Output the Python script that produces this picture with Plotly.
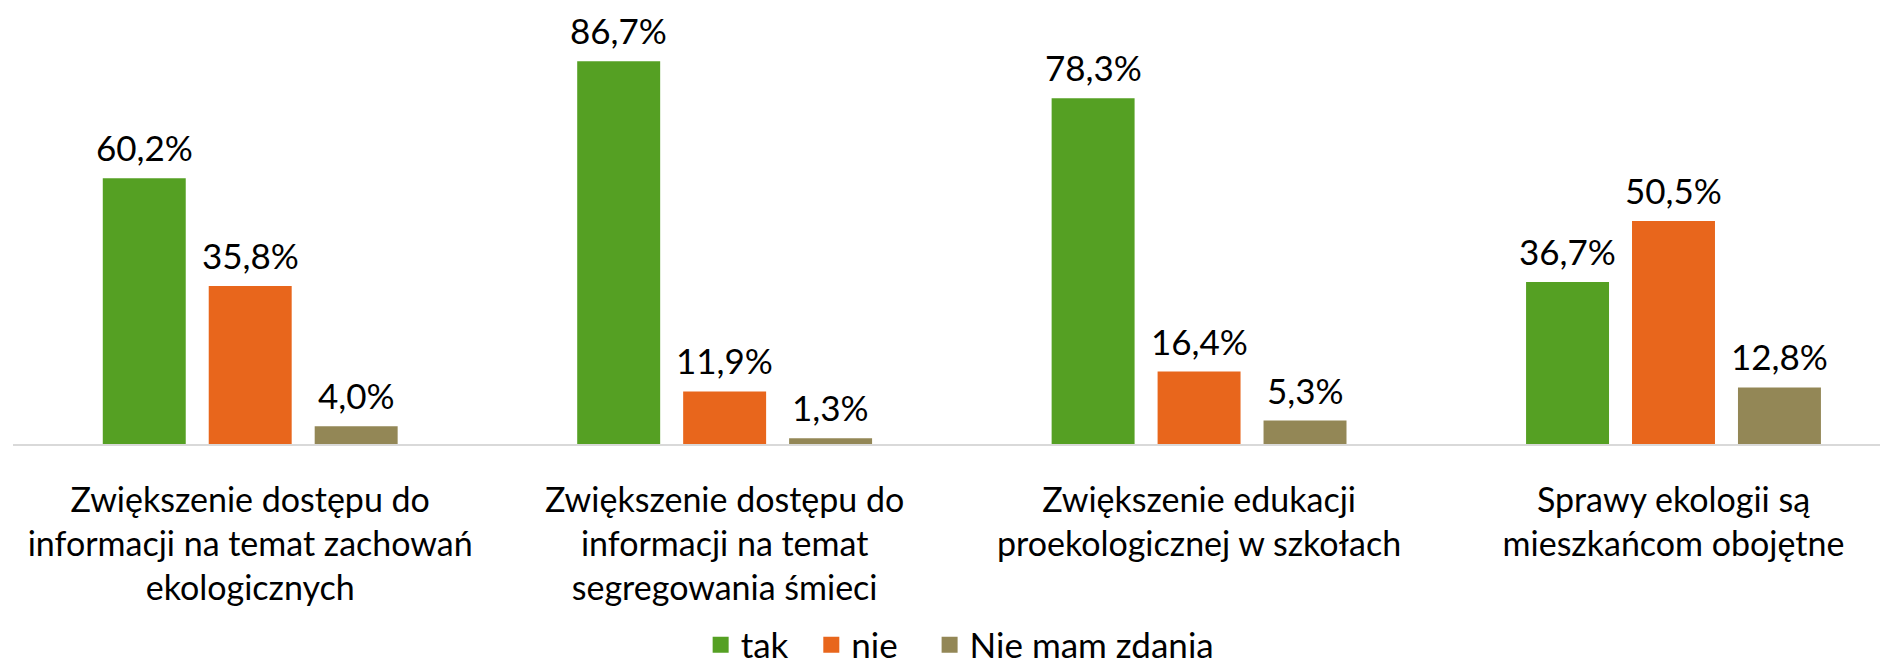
import plotly.graph_objects as go

categories = [
    "Zwiększenie dostępu do<br>informacji na temat zachowań<br>ekologicznych",
    "Zwiększenie dostępu do<br>informacji na temat<br>segregowania śmieci",
    "Zwiększenie edukacji<br>proekologicznej w szkołach",
    "Sprawy ekologii są<br>mieszkańcom obojętne",
]
tak = [60.2, 86.7, 78.3, 36.7]
nie = [35.8, 11.9, 16.4, 50.5]
brak = [4.0, 1.3, 5.3, 12.8]

series_names = ["tak", "nie", "Nie mam zdania"]
series_values = [tak, nie, brak]
colors = ["#55A023", "#E8661C", "#938756"]
# trailing no-break spaces only widen the legend entries
legend_pad = ["\u00a0\u00a0", "\u00a0\u00a0\u00a0", ""]

FONT = "Lato, Carlito, Calibri, sans-serif"
BARGAP = 0.33

fig = go.Figure()
for name, vals, col in zip(series_names, series_values, colors):
    fig.add_trace(go.Bar(
        x=categories, y=vals, name=name,
        marker=dict(color=col, line=dict(width=0)),
        showlegend=False,
    ))
# legend entries with square symbols
for name, col, pad in zip(series_names, colors, legend_pad):
    fig.add_trace(go.Scatter(
        x=[None], y=[None], mode="markers", name=name + pad,
        marker=dict(symbol="square", size=20, color=col),
        showlegend=True,
    ))

# data labels above each bar
slot = (1 - BARGAP) / len(series_values)
annotations = []
for i, vals in enumerate(series_values):
    for j, v in enumerate(vals):
        annotations.append(dict(
            x=j + (i - (len(series_values) - 1) / 2) * slot, y=v,
            xref="x", yref="y",
            text=f"{v:.1f}%".replace(".", ","),
            showarrow=False, yanchor="bottom", xanchor="center", yshift=9,
            borderpad=0,
            font=dict(family=FONT, size=35, color="#000000"),
        ))

fig.update_layout(
    width=1888, height=666,
    margin=dict(l=5, r=0, t=0, b=230),
    paper_bgcolor="white", plot_bgcolor="white",
    barmode="group", bargap=BARGAP, bargroupgap=0.217,
    separators=", ",
    font=dict(family=FONT, size=34, color="#000000"),
    annotations=annotations,
    legend=dict(
        orientation="h", x=0.503, xanchor="center",
        yref="container", y=0.0435, yanchor="middle",
        font=dict(family=FONT, size=35, color="#000000"),
        itemsizing="trace", traceorder="normal",
        bgcolor="rgba(0,0,0,0)",
    ),
    xaxis=dict(
        range=[-0.5, 3.469], showline=True, linecolor="#D9D9D9", linewidth=2,
        showgrid=False, ticks="", automargin=False,
        tickfont=dict(family=FONT, size=34, color="#000000"),
        ticklabelstandoff=25,
    ),
    yaxis=dict(range=[0, 98.75], visible=False, showgrid=False, zeroline=False),
)

fig.write_html("out.html")
